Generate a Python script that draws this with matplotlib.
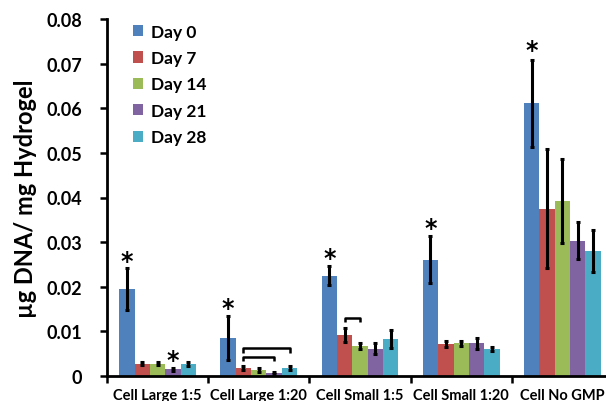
import matplotlib
matplotlib.use("Agg")
import matplotlib.pyplot as plt
import numpy as np
from matplotlib.patches import Patch

plt.rcParams['font.family'] = ['Lato', 'DejaVu Sans']
plt.rcParams['font.weight'] = 'bold'

categories = ["Cell Large 1:5", "Cell Large 1:20", "Cell Small 1:5", "Cell Small 1:20", "Cell No GMP"]
series_names = ["Day 0", "Day 7", "Day 14", "Day 21", "Day 28"]
colors = ["#4F81BD", "#C0504D", "#9BBB59", "#8064A2", "#4BACC6"]

day0 = [0.0194, 0.0085, 0.0225, 0.0261, 0.0611]
day7 = [0.0028, 0.0018, 0.0092, 0.0071, 0.0375]
day14 = [0.0028, 0.0013, 0.0067, 0.0073, 0.0393]
day21 = [0.0015, 0.0007, 0.0061, 0.0073, 0.0303]
day28 = [0.0027, 0.0018, 0.0083, 0.0060, 0.0280]

err0 = [0.0047, 0.0050, 0.0021, 0.0053, 0.0098]
err7 = [0.0003, 0.0004, 0.0015, 0.0007, 0.0134]
err14 = [0.0003, 0.0004, 0.0007, 0.0006, 0.0094]
err21 = [0.0004, 0.0003, 0.0012, 0.0013, 0.0041]
err28 = [0.0005, 0.0005, 0.0020, 0.0004, 0.0048]

# asterisks: (group index, series index, y value)
star_group = [0, 0, 1, 2, 3, 4]
star_series = [0, 3, 0, 0, 0, 0]
star_y = [0.0258, 0.0036, 0.0153, 0.0264, 0.0331, 0.0731]

# brackets: (group, from series, to series, y)
br_group = [1, 1, 2]
br_from = [1, 1, 1]
br_to = [3, 4, 2]
br_y = [0.0043, 0.0062, 0.0130]

yticks = [0, 0.01, 0.02, 0.03, 0.04, 0.05, 0.06, 0.07, 0.08]
ytick_labels = ["0", "0.01", "0.02", "0.03", "0.04", "0.05", "0.06", "0.07", "0.08"]

values = [day0, day7, day14, day21, day28]
errors = [err0, err7, err14, err21, err28]

fig = plt.figure(figsize=(6.06, 4.02), dpi=100)
ax = fig.add_axes([107/606, 25/402, 506/606, 357/402])

x = np.arange(len(categories))
bw = 0.152
offsets = (np.arange(5) - 2) * bw

for i in range(5):
    ax.bar(x + offsets[i], values[i], width=bw, color=colors[i], edgecolor='none',
           yerr=errors[i], error_kw=dict(ecolor='black', elinewidth=2.2, capsize=1.2, capthick=2.2),
           label=series_names[i], zorder=2)

for g, s, yv in zip(star_group, star_series, star_y):
    ax.text(x[g] + offsets[s], yv, "*", ha='center', va='center', fontsize=17,
            fontweight='bold', color='black', family='DejaVu Sans', zorder=4)

leg_h = 0.001
for g, a, b, yv in zip(br_group, br_from, br_to, br_y):
    xa = x[g] + offsets[a]
    xb = x[g] + offsets[b]
    ax.plot([xa, xa, xb, xb], [yv - leg_h, yv, yv, yv - leg_h], color='black', lw=1.8,
            solid_capstyle='butt', zorder=4)

ax.set_xlim(-0.5, 4.5)
ax.set_ylim(0, 0.08)
ax.set_yticks(yticks)
ax.set_yticklabels(ytick_labels, fontsize=13, fontweight='bold')
ax.set_xticks(np.arange(-0.5, 5.0, 1.0))
ax.set_xticklabels([])
ax.set_xticks(x, minor=True)
ax.set_xticklabels(categories, minor=True, fontsize=10.5, fontweight='bold')
ax.tick_params(axis='x', which='minor', length=0, pad=8.5)
ax.tick_params(axis='x', which='major', direction='out', length=5, width=1.8)
ax.tick_params(axis='y', direction='out', length=5, width=1.8, pad=13)

for sp in ['top', 'right']:
    ax.spines[sp].set_visible(False)
for sp in ['left', 'bottom']:
    ax.spines[sp].set_linewidth(2)

ax.set_ylabel("µg DNA/ mg Hydrogel", fontsize=17, fontweight='bold', labelpad=7)

handles = [Patch(facecolor=c, edgecolor='none') for c in colors]
ax.legend(handles, series_names, loc='upper left', bbox_to_anchor=(117/606, 1 - 9/402),
          bbox_transform=fig.transFigure, frameon=False,
          handlelength=0.62, handleheight=0.62, handletextpad=0.45, labelspacing=0.6,
          prop=dict(weight='bold', size=12.5))

fig.savefig("out.png", dpi=100)
